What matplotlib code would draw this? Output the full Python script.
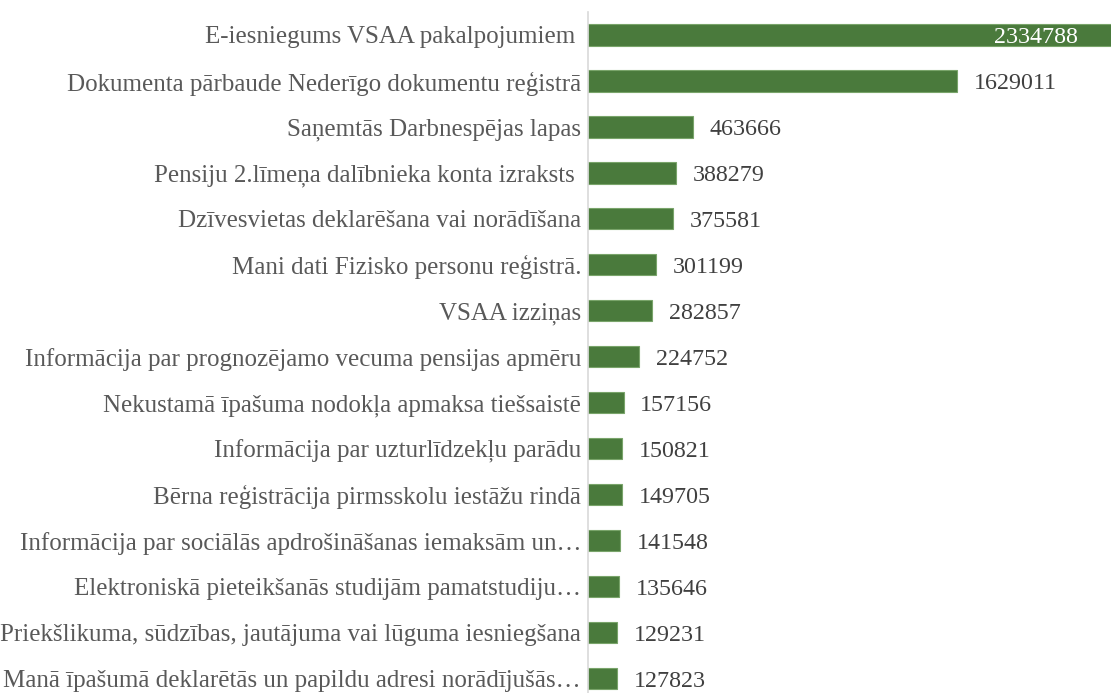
import matplotlib.pyplot as plt

plt.rcParams['font.family'] = ['Liberation Serif', 'DejaVu Serif']

categories = [
    'E-iesniegums VSAA pakalpojumiem ',
    'Dokumenta pārbaude Nederīgo dokumentu reģistrā',
    'Saņemtās Darbnespējas lapas',
    'Pensiju 2.līmeņa dalībnieka konta izraksts ',
    'Dzīvesvietas deklarēšana vai norādīšana',
    'Mani dati Fizisko personu reģistrā.',
    'VSAA izziņas',
    'Informācija par prognozējamo vecuma pensijas apmēru',
    'Nekustamā īpašuma nodokļa apmaksa tiešsaistē',
    'Informācija par uzturlīdzekļu parādu',
    'Bērna reģistrācija pirmsskolu iestāžu rindā',
    'Informācija par sociālās apdrošināšanas iemaksām un…',
    'Elektroniskā pieteikšanās studijām pamatstudiju…',
    'Priekšlikuma, sūdzības, jautājuma vai lūguma iesniegšana',
    'Manā īpašumā deklarētās un papildu adresi norādījušās…',
]
values = [2334788, 1629011, 463666, 388279, 375581, 301199, 282857, 224752,
          157156, 150821, 149705, 141548, 135646, 129231, 127823]

W, H = 1111, 693
fig = plt.figure(figsize=(W / 100, H / 100), dpi=100)
# axes runs past the right and bottom edge, like the clipped original
ax = fig.add_axes([588 / W, (H - 701.7) / H, (1117 - 588) / W, (701.7 - 12) / H])

y = list(range(len(values)))
ax.barh(y, values, height=0.46, color='#4a7a3c', edgecolor='#79a46a', linewidth=0.8)
ax.set_ylim(len(values) - 0.5, -0.5)
ax.set_xlim(0, max(values))

ax.set_yticks(y)
ax.set_yticklabels(categories, fontsize=18, color='#595959', va='center_baseline')
ax.tick_params(axis='y', length=0, pad=5)
ax.set_xticks([])

for s in ['top', 'right', 'bottom']:
    ax.spines[s].set_visible(False)
ax.spines['left'].set_color('#d9d9d9')
ax.spines['left'].set_linewidth(1.2)

for i, v in enumerate(values):
    if i == 0:
        ax.annotate(str(v), (v, i), xytext=(-28, 0), textcoords='offset points',
                    ha='right', va='center_baseline', fontsize=17.3, color='white')
    else:
        ax.annotate(str(v), (v, i), xytext=(12, 0), textcoords='offset points',
                    ha='left', va='center_baseline', fontsize=17.3, color='#404040')

fig.savefig('out.png', dpi=100)
